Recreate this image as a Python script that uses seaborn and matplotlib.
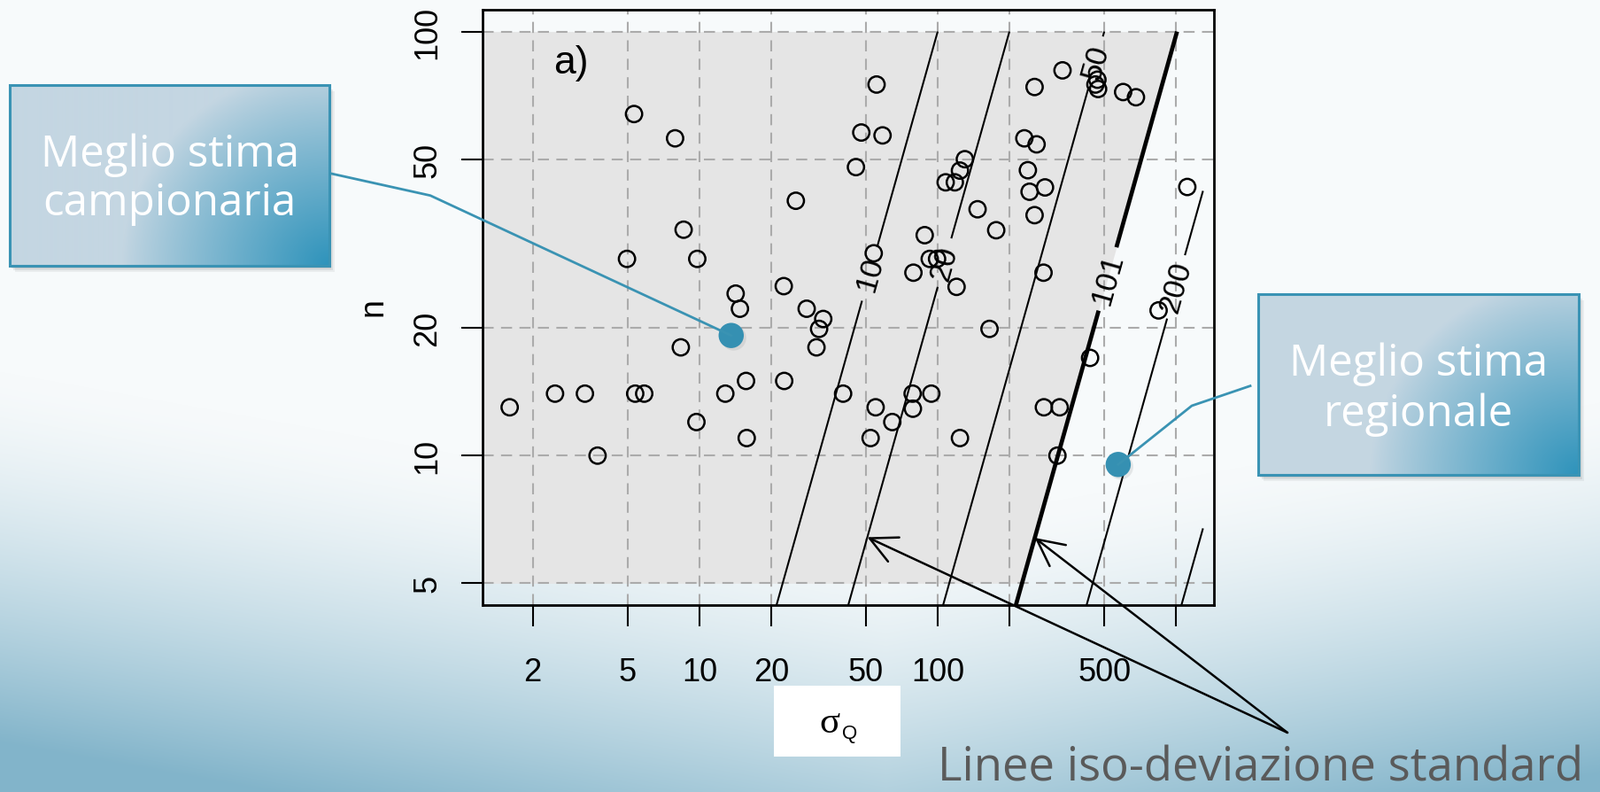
import numpy as np
import matplotlib
matplotlib.use("Agg")
import matplotlib.pyplot as plt
import seaborn as sns
import pandas as pd
from matplotlib.patches import Rectangle
from matplotlib.ticker import NullLocator
import matplotlib.patheffects as pe

# ---------------- data ----------------
sigma_q = [5.32, 7.91, 25.4, 8.59, 4.97, 9.80, 22.6, 14.2, 14.8, 28.2,
           33.1, 31.8, 31.0, 8.36, 15.7, 22.7, 12.85, 40.1, 1.60, 2.48,
           3.31, 5.38, 5.87, 9.72, 15.8, 3.74, 55.4, 47.8, 58.7, 45.4,
           53.9, 334, 255, 459, 471, 468, 600, 679, 231, 260,
           130, 124, 108, 118, 239, 282, 243, 255, 147, 176,
           88.2, 92.6, 99.4, 79.1, 120, 278, 1115, 845, 165, 436,
           54.9, 78.5, 94.0, 78.7, 64.5, 52.3, 124, 279, 325, 318]
n_obs = [63.9, 56.0, 39.9, 34.1, 29.1, 29.1, 25.1, 24.1, 22.2, 22.2,
         21.0, 19.9, 18.0, 18.0, 15.0, 15.0, 14.0, 14.0, 13.0, 14.0,
         14.0, 14.0, 14.0, 12.0, 11.0, 10.0, 75.0, 57.8, 56.9, 47.9,
         30.0, 81.0, 74.0, 75.0, 73.2, 77.0, 72.0, 70.0, 56.0, 54.2,
         50.0, 47.0, 44.1, 44.1, 47.1, 42.9, 41.9, 36.9, 38.1, 34.0,
         33.1, 29.1, 29.1, 27.0, 25.0, 27.0, 43.0, 22.0, 19.9, 17.0,
         13.0, 14.0, 14.0, 12.9, 12.0, 11.0, 11.0, 13.0, 13.0, 10.0]
best_sigma = [13.6, 572]
best_n = [19.2, 9.53]
levels = [10, 20, 50, 101, 200, 500]
level_labels = ["10", "20", "50", "101", "200", ""]
label_n = [26.9, 28.5, 85.0, 26.1, 25.0, None]
x_ticks = [2, 5, 10, 20, 50, 100, 200, 500, 1000]
x_ticklabels = ["2", "5", "10", "20", "50", "100", "", "500", ""]
y_ticks = [5, 10, 20, 50, 100]
y_ticklabels = ["5", "10", "20", "50", "100"]

W, H = 1808, 895
plt.rcParams['font.family'] = ['Liberation Sans', 'DejaVu Sans']
fig = plt.figure(figsize=(W / 100, H / 100), dpi=100)
SLIDE_FONT = ['Open Sans', 'Lato', 'DejaVu Sans']

# ---------------- slide background ----------------
bg = fig.add_axes([0, 0, 1, 1], zorder=0)
bg.set_xlim(0, W); bg.set_ylim(H, 0); bg.axis('off')
yy, xx = np.mgrid[0:H, 0:W]
t = np.clip((yy - 600 + 0.18 * np.abs(xx - 1000)) / 420, 0, 1) ** 1.5
ct = np.array([247, 250, 251]) / 255
cb = np.array([130, 180, 202]) / 255
img = ct[None, None, :] * (1 - t[..., None]) + cb[None, None, :] * t[..., None]
bg.imshow(img, extent=[0, W, H, 0], aspect='auto', interpolation='bilinear', zorder=0)


def callout_box(x0, y0, x1, y1, lines, baselines):
    w, h = x1 - x0, y1 - y0
    for k, a in [(6, 0.05), (4, 0.07), (2, 0.09)]:
        bg.add_patch(Rectangle((x0 + k, y0 + k + 1), w, h, color='black', alpha=a,
                               lw=0, zorder=0.5))
    hh, ww = int(h), int(w)
    gy, gx = np.mgrid[0:hh, 0:ww]
    xn = gx / ww; yn = gy / hh
    d = np.sqrt(((1 - xn) / 0.65) ** 2 + ((1 - yn) / 1.1) ** 2)
    wgt = np.clip(1 - d, 0, 1) ** 0.9
    c0 = np.array([196, 214, 226]) / 255
    c1 = np.array([46, 147, 187]) / 255
    gimg = c0[None, None, :] * (1 - wgt[..., None]) + c1[None, None, :] * wgt[..., None]
    bg.imshow(gimg, extent=[x0, x1, y1, y0], aspect='auto', interpolation='bilinear',
              zorder=0.8)
    bg.add_patch(Rectangle((x0, y0), w, h, fill=False, ec='#3a93b4', lw=2.2, zorder=1))
    for txt, yb in zip(lines, baselines):
        bg.text((x0 + x1) / 2, yb, txt, ha='center', va='baseline', color='white',
                fontsize=35.5, family=SLIDE_FONT, zorder=3)


callout_box(11.5, 97, 372, 301, ["Meglio stima", "campionaria"], [188.3, 243.3])
callout_box(1421, 333, 1783, 537, ["Meglio stima", "regionale"], [424.5, 481.3])
bg.set_xlim(0, W); bg.set_ylim(H, 0)

# ---------------- main plot ----------------
ax = fig.add_axes([545 / W, 1 - 684.3 / H, (1371.5 - 545) / W, (684.3 - 11.7) / H], zorder=1)
ax.patch.set_alpha(0)
ax.set_xscale('log'); ax.set_yscale('log')
lx = np.log10([min(sigma_q), max(sigma_q)])
ext = 0.04 * (lx[1] - lx[0])
ax.set_xlim(10 ** (lx[0] - ext), 10 ** (lx[1] + ext))
ly = np.log10([min(y_ticks), max(y_ticks)])
eyt = 0.04 * (ly[1] - ly[0])
ax.set_ylim(10 ** (ly[0] - eyt), 10 ** (ly[1] + eyt))
xlim = ax.get_xlim()

# grey region: left of the regional-estimate line
n_fill = np.logspace(np.log10(min(y_ticks)), np.log10(max(y_ticks)), 300)
ax.fill_betweenx(n_fill, xlim[0], levels[3] * np.sqrt(n_fill), color='#e5e5e5', lw=0, zorder=0.3)

# dashed grid
for xv in x_ticks:
    ax.axvline(xv, color='#ababab', lw=1.5, ls=(0, (6, 4)), zorder=0.6)
for yv in y_ticks:
    ax.axhline(yv, color='#ababab', lw=1.5, ls=(0, (6, 4)), zorder=0.6)

# iso standard deviation lines  sigma / sqrt(n) = c
gap_half = [0.0625, 0.056, 0.058, 0.073, 0.0735, 0.0]
sig_max = 1300
for c, lab, nc, gh in zip(levels, level_labels, label_n, gap_half):
    nn = np.logspace(np.log10(4.0), 2, 600)
    ss = c * np.sqrt(nn)
    keep = ss <= sig_max
    if nc is not None:
        keep &= np.abs(np.log10(nn) - np.log10(nc)) > gh
    lw = 3.4 if c == 101 else 1.5
    idx = np.where(keep)[0]
    if len(idx) == 0:
        continue
    splits = np.where(np.diff(idx) > 1)[0] + 1
    for seg in np.split(idx, splits):
        ax.plot(ss[seg], nn[seg], color='black', lw=lw, solid_capstyle='butt', zorder=2)
    if nc is not None and lab:
        p1 = ax.transData.transform((c * np.sqrt(nc), nc))
        p2 = ax.transData.transform((c * np.sqrt(nc * 1.1), nc * 1.1))
        ang = np.degrees(np.arctan2(p2[1] - p1[1], p2[0] - p1[0]))
        ax.text(c * np.sqrt(nc), nc, lab, rotation=ang, rotation_mode='anchor',
                ha='center', va='center', fontsize=25, zorder=2.5)

# observations
df = pd.DataFrame({'sigma': sigma_q, 'n': n_obs})
sns.scatterplot(data=df, x='sigma', y='n', ax=ax, s=175, marker='o', legend=False, zorder=3)
coll = ax.collections[-1]
coll.set_facecolor('none'); coll.set_edgecolor('black'); coll.set_linewidth(1.8)

# best estimates
dfb = pd.DataFrame({'sigma': best_sigma, 'n': best_n})
sns.scatterplot(data=dfb, x='sigma', y='n', ax=ax, s=420, color='#3590b2', linewidth=0,
                legend=False, zorder=4)
cb_ = ax.collections[-1]
cb_.set_path_effects([pe.withSimplePatchShadow(offset=(2, -2), alpha=0.15,
                                               shadow_rgbFace='#777777')])

ax.set_xticks(x_ticks); ax.set_xticklabels(x_ticklabels)
ax.set_yticks(y_ticks); ax.set_yticklabels(y_ticklabels, rotation=90, va='center', ha='center')
ax.xaxis.set_minor_locator(NullLocator()); ax.yaxis.set_minor_locator(NullLocator())
ax.tick_params(axis='both', length=17, width=1.5, labelsize=26, color='black')
ax.tick_params(axis='x', pad=24.7)
ax.tick_params(axis='y', pad=27.6)
ax.set_xlabel(''); ax.set_ylabel('')
for sp in ax.spines.values():
    sp.set_linewidth(2); sp.set_color('black')

# ---------------- overlay annotations ----------------
ov = fig.add_axes([0, 0, 1, 1], zorder=5)
ov.set_xlim(0, W); ov.set_ylim(H, 0); ov.axis('off'); ov.patch.set_alpha(0)


def d2o(x, y):
    return ov.transData.inverted().transform(ax.transData.transform((x, y)))


ov.text(645, 71, 'a)', ha='center', va='center', fontsize=32)
ov.text(421, 347, 'n', ha='center', va='center', fontsize=27, rotation=90)
ov.add_patch(Rectangle((874, 775), 143, 80, color='white', lw=0))
ov.text(937, 817, 'σ', ha='center', va='center', fontsize=31, family=['Liberation Serif'])
ov.text(960, 829, 'Q', ha='center', va='center', fontsize=16)

teal = '#3a93b3'
d1 = d2o(best_sigma[0], best_n[0])
d2 = d2o(best_sigma[1], best_n[1])
ov.plot([373, 486, d1[0]], [196.7, 221.7, d1[1]], color=teal, lw=2.0)
ov.plot([1412, 1346, d2[0]], [436.6, 459, d2[1]], color=teal, lw=2.0)

src = (1454, 828)
for c, nt in [(levels[1], 6.42), (levels[3], 6.40)]:
    tip = d2o(c * np.sqrt(nt), nt)
    ov.annotate('', xy=tuple(tip), xytext=src,
                arrowprops=dict(arrowstyle='->,head_length=0.9,head_width=0.45',
                                lw=1.8, color='black', shrinkA=0, shrinkB=0,
                                mutation_scale=24))

ov.text(1059, 882, 'Linee iso-deviazione standard', ha='left', va='baseline',
        fontsize=38, color='#5a5a5a', family=SLIDE_FONT)

fig.savefig('out.png', dpi=100)
